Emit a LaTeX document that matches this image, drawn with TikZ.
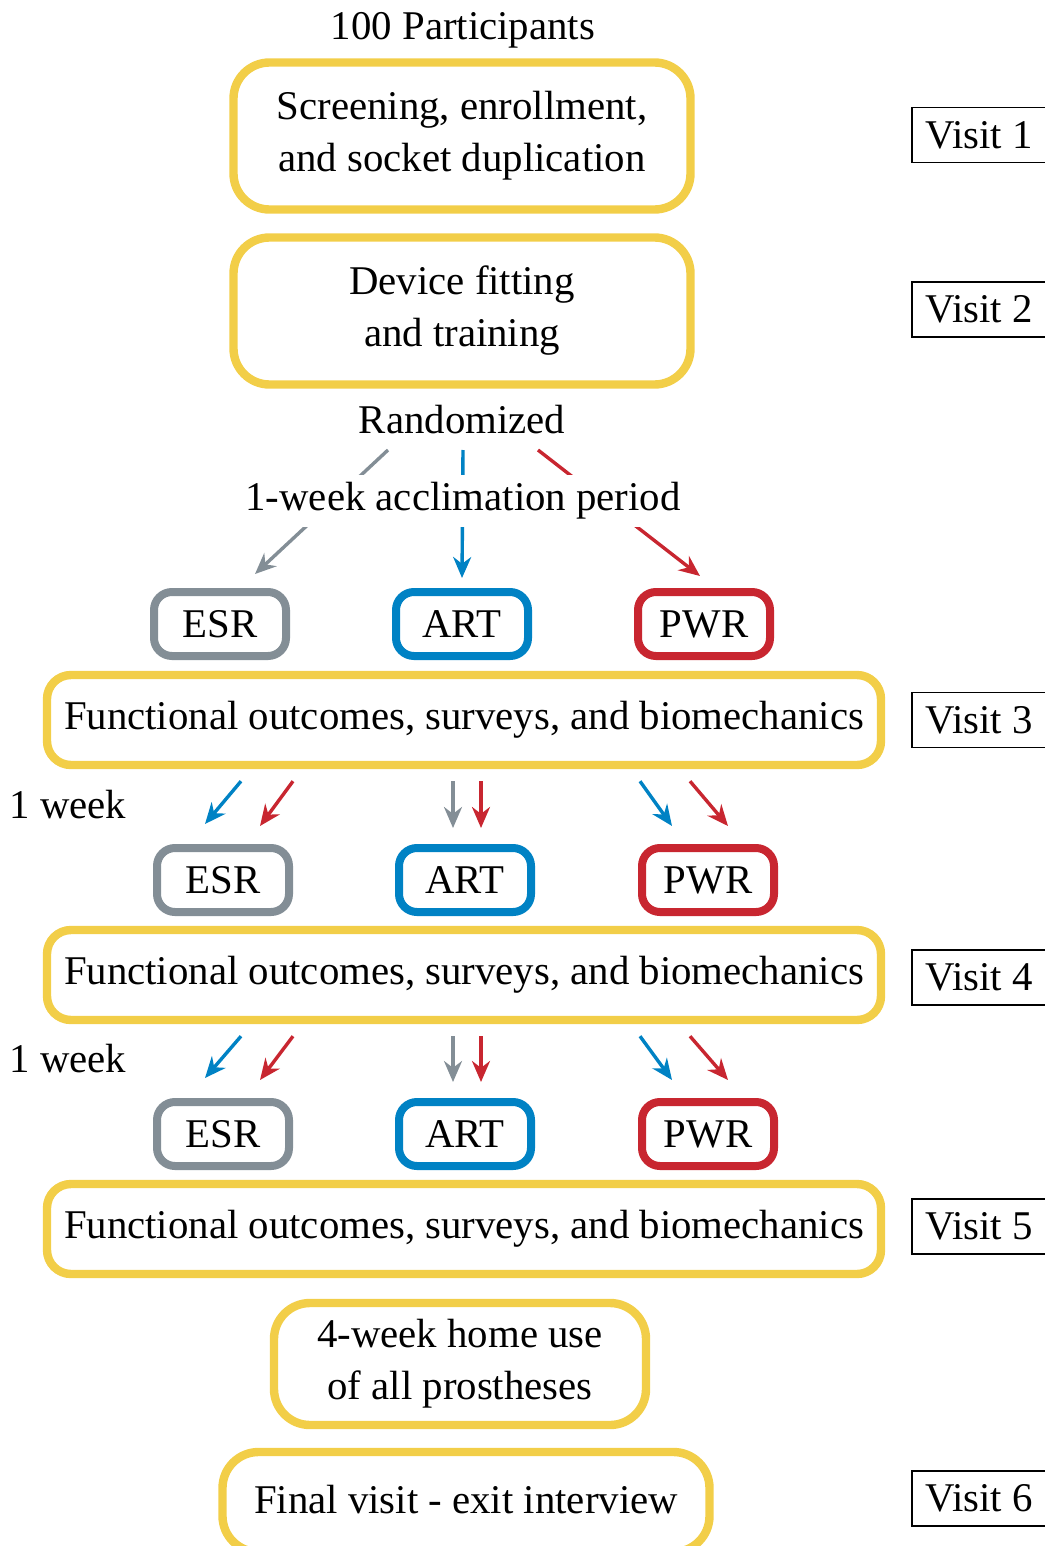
\documentclass[tikz,border=0pt]{standalone}
\usepackage{fontspec}
\setmainfont{Liberation Serif}
\usetikzlibrary{arrows.meta}
\definecolor{ylw}{RGB}{242,206,72}
\definecolor{gry}{RGB}{131,142,150}
\definecolor{blu}{RGB}{0,130,196}
\definecolor{rd}{RGB}{200,38,48}
\begin{document}
\begin{tikzpicture}[x=0.5pt,y=-0.5pt,
font=\fontsize{20.4}{26}\selectfont,
yb/.style={
draw=ylw,
line width=4.2pt,
rounded corners=18pt,
align=center},
fb/.style={yb,rounded corners=12pt,minimum width=417pt,minimum height=45pt},
tb/.style={line width=4pt,rounded corners=9pt,minimum width=66pt,minimum height=32pt},
vb/.style={draw,line width=0.9pt,minimum width=67pt,minimum height=27.5pt},
arr/.style={-{Stealth[length=10.5pt,width=9pt]},line width=1.7pt},
]
\useasboundingbox(0,0)rectangle(1044,1546);
%Enrollment
\node(part)at(463,30){100 Participants};
\node[yb,minimum width=228.5pt,minimum height=73.5pt](scr)at(462,136){Screening, enrollment,\\and socket duplication};
\node[yb,minimum width=228.5pt,minimum height=73.5pt](fit)at(462,311){Device fitting\\and training};
\node[vb](v1)at(979,135){Visit 1};
\node[vb](v2)at(979,309.5){Visit 2};
%Randomization
\node(rand)at(462,420){Randomized};
\node[tb,draw=gry](esr1)at(220,624){ESR};
\node[tb,draw=blu](art1)at(462,624){ART};
\node[tb,draw=rd](pwr1)at(704,624){PWR};
\draw[arr,gry]([xshift=-37pt,yshift=-15pt]rand.center)--([xshift=17.5pt,yshift=7pt]esr1.north);
\draw[arr,blu]([xshift=0.5pt,yshift=-15pt]rand.center)--([yshift=5pt]art1.north);
\draw[arr,rd]([xshift=38pt,yshift=-15pt]rand.center)--([xshift=-2pt,yshift=6pt]pwr1.north);
\node[fill=white,inner sep=0pt,minimum height=26pt](acc)at(463,501){1-week acclimation period};
%Visit 3
\node[fb](fo1)at(464,720){Functional outcomes, surveys, and biomechanics};
\node[vb](v3)at(979,720){Visit 3};
\node(wk1)at(68,805){1 week};
\node[tb,draw=gry](esr2)at(223,880){ESR};
\node[tb,draw=blu](art2)at(465,880){ART};
\node[tb,draw=rd](pwr2)at(708,880){PWR};
\draw[arr,blu]([xshift=9pt,yshift=-6pt]fo1.south-|esr2.north)--([xshift=-9pt,yshift=10pt]esr2.north);
\draw[arr,rd]([xshift=35pt,yshift=-6pt]fo1.south-|esr2.north)--([xshift=18.5pt,yshift=9pt]esr2.north);
\draw[arr,gry]([xshift=-6pt,yshift=-6pt]fo1.south-|art2.north)--([xshift=-6pt,yshift=8pt]art2.north);
\draw[arr,rd]([xshift=8pt,yshift=-6pt]fo1.south-|art2.north)--([xshift=8pt,yshift=8pt]art2.north);
\draw[arr,blu]([xshift=-34pt,yshift=-6pt]fo1.south-|pwr2.north)--([xshift=-18pt,yshift=9pt]pwr2.north);
\draw[arr,rd]([xshift=-9pt,yshift=-6pt]fo1.south-|pwr2.north)--([xshift=10pt,yshift=9pt]pwr2.north);
%Visit 4
\node[fb](fo2)at(464,975){Functional outcomes, surveys, and biomechanics};
\node[vb](v4)at(979,977.5){Visit 4};
\node(wk2)at(68,1059){1 week};
\node[tb,draw=gry](esr3)at(223,1134){ESR};
\node[tb,draw=blu](art3)at(465,1134){ART};
\node[tb,draw=rd](pwr3)at(708,1134){PWR};
\draw[arr,blu]([xshift=9pt,yshift=-6pt]fo2.south-|esr3.north)--([xshift=-9pt,yshift=10pt]esr3.north);
\draw[arr,rd]([xshift=35pt,yshift=-6pt]fo2.south-|esr3.north)--([xshift=18.5pt,yshift=9pt]esr3.north);
\draw[arr,gry]([xshift=-6pt,yshift=-6pt]fo2.south-|art3.north)--([xshift=-6pt,yshift=8pt]art3.north);
\draw[arr,rd]([xshift=8pt,yshift=-6pt]fo2.south-|art3.north)--([xshift=8pt,yshift=8pt]art3.north);
\draw[arr,blu]([xshift=-34pt,yshift=-6pt]fo2.south-|pwr3.north)--([xshift=-18pt,yshift=9pt]pwr3.north);
\draw[arr,rd]([xshift=-9pt,yshift=-6pt]fo2.south-|pwr3.north)--([xshift=10pt,yshift=9pt]pwr3.north);
%Visit 5
\node[fb](fo3)at(464,1229){Functional outcomes, surveys, and biomechanics};
\node[vb](v5)at(979,1226.5){Visit 5};
%Home use and exit
\node[yb,minimum width=186pt,minimum height=61pt](home)at(460,1364){4-week home use\\of all prostheses};
\node[yb,minimum width=243.5pt,minimum height=50pt,text depth=0.3em](exit)at(466,1502){Final visit - exit interview};
\node[vb](v6)at(979,1498.5){Visit 6};
\end{tikzpicture}
\end{document}
